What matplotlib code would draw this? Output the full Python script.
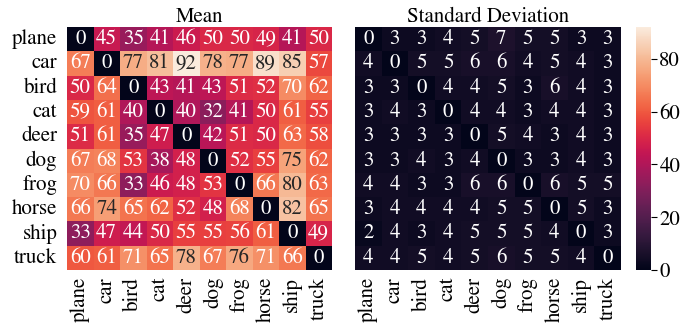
import numpy as np
import matplotlib
matplotlib.use("Agg")
import matplotlib.pyplot as plt
import seaborn as sns

classes = ["plane", "car", "bird", "cat", "deer", "dog", "frog", "horse", "ship", "truck"]

mean_vals = [
    [0, 45, 35, 41, 46, 50, 50, 49, 41, 50],
    [67, 0, 77, 81, 92, 78, 77, 89, 85, 57],
    [50, 64, 0, 43, 41, 43, 51, 52, 70, 62],
    [59, 61, 40, 0, 40, 32, 41, 50, 61, 55],
    [51, 61, 35, 47, 0, 42, 51, 50, 63, 58],
    [67, 68, 53, 38, 48, 0, 52, 55, 75, 62],
    [70, 66, 33, 46, 48, 53, 0, 66, 80, 63],
    [66, 74, 65, 62, 52, 48, 68, 0, 82, 65],
    [33, 47, 44, 50, 55, 55, 56, 61, 0, 49],
    [60, 61, 71, 65, 78, 67, 76, 71, 66, 0],
]

std_vals = [
    [0, 3, 3, 4, 5, 7, 5, 5, 3, 3],
    [4, 0, 5, 5, 6, 6, 4, 5, 4, 3],
    [3, 3, 0, 4, 4, 5, 3, 6, 4, 3],
    [3, 4, 3, 0, 4, 4, 3, 4, 4, 3],
    [3, 3, 3, 3, 0, 5, 4, 3, 4, 3],
    [3, 3, 4, 3, 4, 0, 3, 3, 4, 3],
    [4, 4, 3, 3, 6, 6, 0, 6, 5, 5],
    [3, 4, 4, 4, 4, 5, 5, 0, 5, 3],
    [2, 4, 3, 4, 5, 5, 5, 4, 0, 3],
    [4, 4, 5, 4, 5, 6, 5, 5, 4, 0],
]

titles = ["Mean", "Standard Deviation"]
cbar_ticks = [0, 20, 40, 60, 80]

plt.rcParams['font.family'] = ['STIXGeneral', 'Liberation Serif', 'DejaVu Serif']
FS = 15

fig = plt.figure(figsize=(6.97, 3.24), dpi=100)
ax1 = fig.add_axes([67/697, 1-270/324, 265/697, 243/324])
ax2 = fig.add_axes([355/697, 1-270/324, 266/697, 243/324])
cax = fig.add_axes([636/697, 1-270/324, 15/697, 243/324])

M = np.array(mean_vals)
S = np.array(std_vals)
vmax = M.max()

sns.heatmap(M, ax=ax1, cmap="rocket", vmin=0, vmax=vmax, annot=True, fmt="d",
            annot_kws={"fontsize": FS}, cbar=False,
            xticklabels=classes, yticklabels=classes)
sns.heatmap(S, ax=ax2, cmap="rocket", vmin=0, vmax=vmax, annot=True, fmt="d",
            annot_kws={"fontsize": FS}, cbar=True, cbar_ax=cax,
            xticklabels=classes, yticklabels=False)

for ax, t in zip([ax1, ax2], titles):
    ax.set_title(t, fontsize=FS, pad=2)
    ax.tick_params(axis='y', length=0, labelsize=FS, pad=7)
    ax.tick_params(axis='x', length=0, labelsize=FS, pad=5)
    ax.set_xticklabels(classes, rotation=90, fontsize=FS)
ax1.set_yticklabels(classes, rotation=0, fontsize=FS)

cax.set_yticks(cbar_ticks)
cax.tick_params(labelsize=FS, length=4, width=0.8, pad=2)
for s in cax.spines.values():
    s.set_visible(False)

fig.savefig("out.png", dpi=100)
